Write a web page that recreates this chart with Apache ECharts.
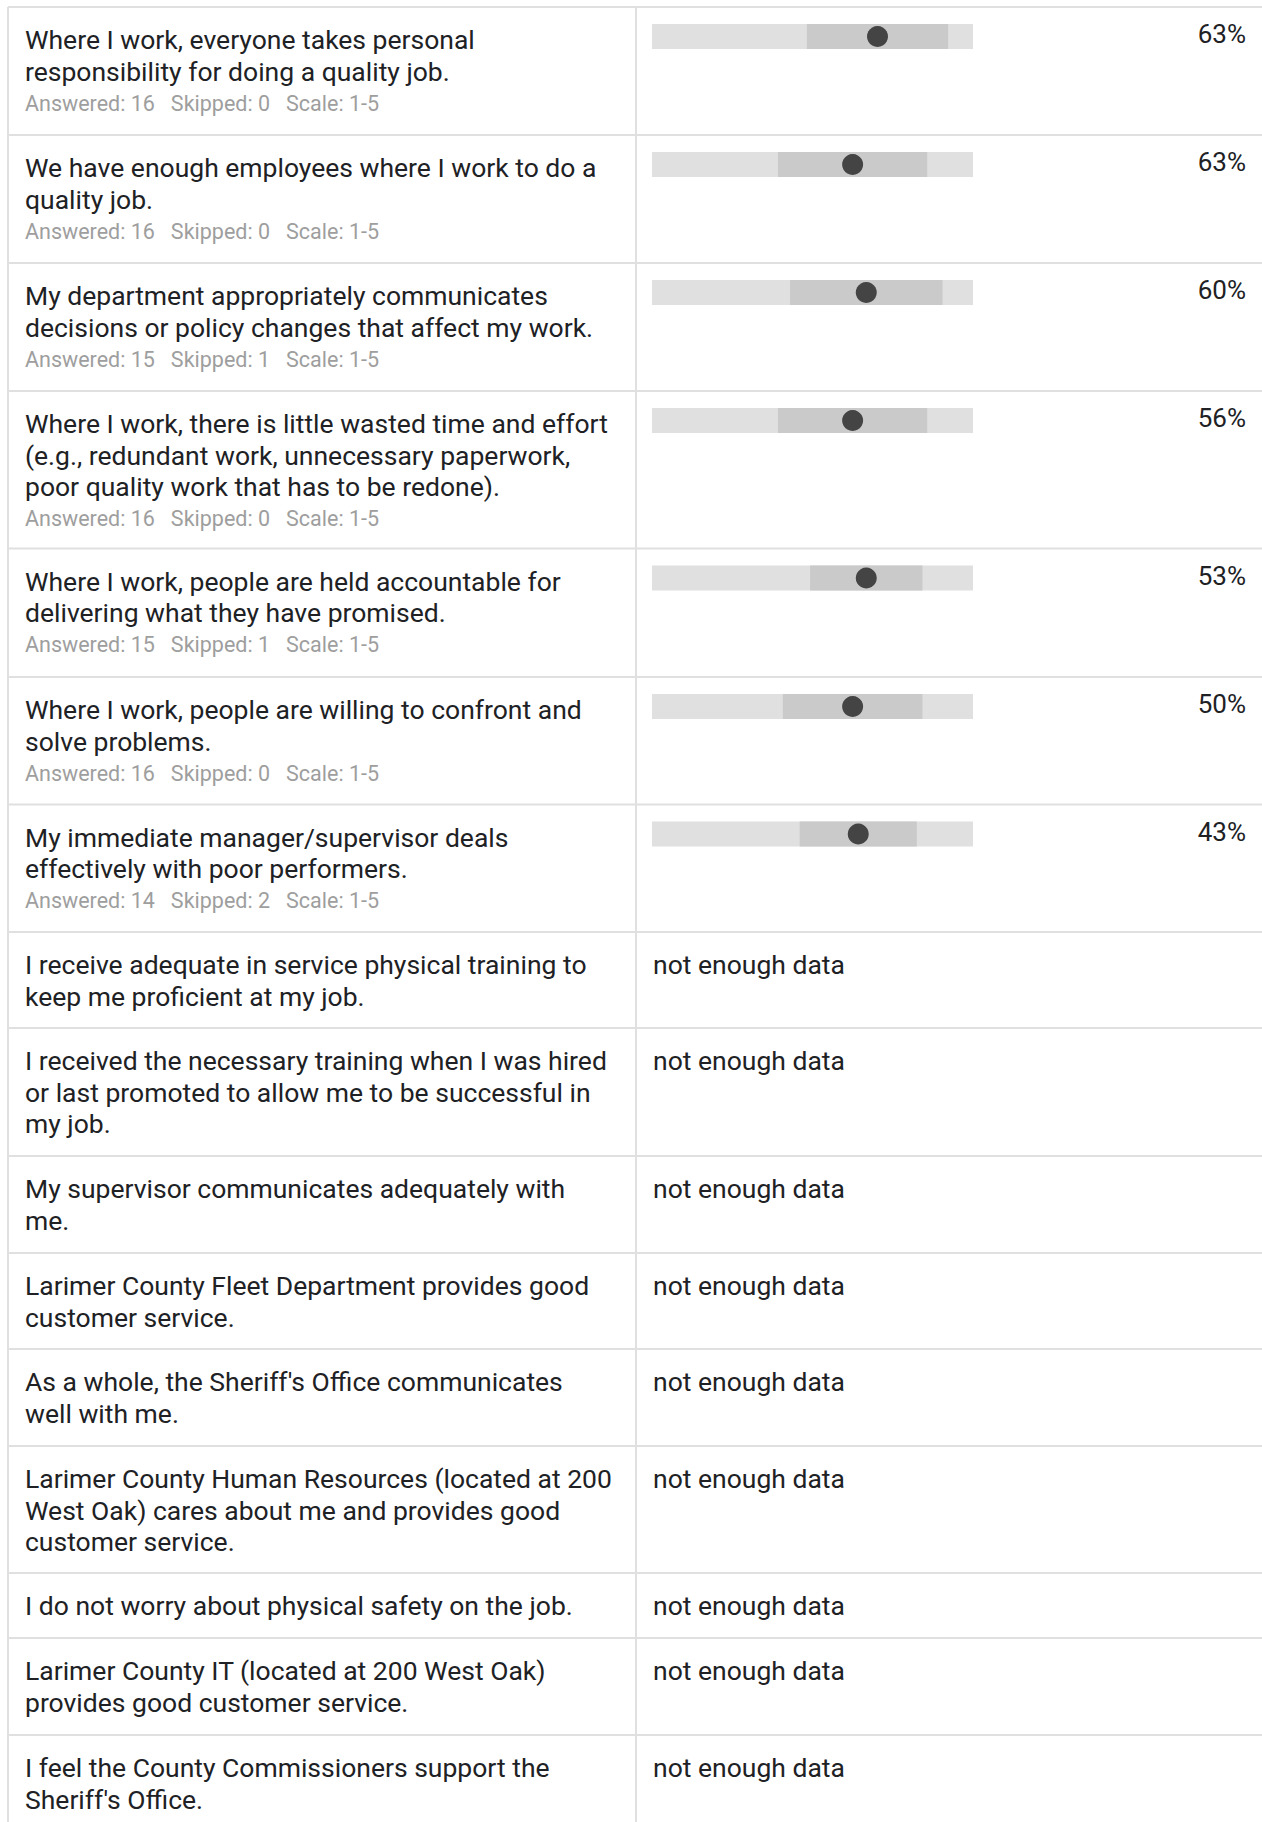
<!DOCTYPE html>
<html>
<head>
<meta charset="utf-8">
<script src="https://cdn.jsdelivr.net/npm/echarts@6/dist/echarts.min.js"></script>
<style>
html,body{margin:0;padding:0;background:#fff;}
#chart{width:1262px;height:1822px;}
</style>
</head>
<body>
<div id="chart"></div>
<script>
// ---------------- DATA ----------------
const questions = [
  "Where I work, everyone takes personal\nresponsibility for doing a quality job.",
  "We have enough employees where I work to do a\nquality job.",
  "My department appropriately communicates\ndecisions or policy changes that affect my work.",
  "Where I work, there is little wasted time and effort\n(e.g., redundant work, unnecessary paperwork,\npoor quality work that has to be redone).",
  "Where I work, people are held accountable for\ndelivering what they have promised.",
  "Where I work, people are willing to confront and\nsolve problems.",
  "My immediate manager/supervisor deals\neffectively with poor performers.",
  "I receive adequate in service physical training to\nkeep me proficient at my job.",
  "I received the necessary training when I was hired\nor last promoted to allow me to be successful in\nmy job.",
  "My supervisor communicates adequately with\nme.",
  "Larimer County Fleet Department provides good\ncustomer service.",
  "As a whole, the Sheriff's Office communicates\nwell with me.",
  "Larimer County Human Resources (located at 200\nWest Oak) cares about me and provides good\ncustomer service.",
  "I do not worry about physical safety on the job.",
  "Larimer County IT (located at 200 West Oak)\nprovides good customer service.",
  "I feel the County Commissioners support the\nSheriff's Office."
];
const answered = [16, 16, 15, 16, 15, 16, 14];
const skipped  = [0, 0, 1, 0, 1, 0, 2];
const means    = [3.81, 3.50, 3.67, 3.50, 3.67, 3.50, 3.57];
const sds      = [0.88, 0.93, 0.95, 0.93, 0.70, 0.87, 0.73];
const favorable = ["63%", "63%", "60%", "56%", "53%", "50%", "43%"];
const scaleRange = [1, 5];
const scaleText = "Scale: 1-5";
const noDataText = "not enough data";

// ---------------- LAYOUT ----------------
const rowHeights = [128, 128, 128, 157.5, 128.5, 127.5, 127.5, 96, 128, 97, 96, 97, 127, 65, 97, 100];
const tableTop = 7, tableLeft = 8, colDiv = 636, pageW = 1262;
const trackLeft = 652, trackWidth = 321, trackOffset = 17, trackHeight = 25;
const lineColor = '#e0e0e0';
const textColor = '#202124';
const subColor = '#9e9e9e';
const FONT = 'Roboto, "Noto Sans", sans-serif';
const mainSize = 26.5, subSize = 21.5, pctSize = 26;

const rowTops = [];
let acc = tableTop;
rowHeights.forEach(h => { rowTops.push(acc); acc += h; });
const tableBottom = acc;

const graphic = [];
// borders
graphic.push({type:'line', shape:{x1:tableLeft, y1:tableTop, x2:pageW, y2:tableTop}, style:{stroke:lineColor, lineWidth:2}});
rowTops.forEach((t, i) => {
  graphic.push({type:'line', shape:{x1:tableLeft, y1:t + rowHeights[i], x2:pageW, y2:t + rowHeights[i]}, style:{stroke:lineColor, lineWidth:2}});
});
graphic.push({type:'line', shape:{x1:tableLeft, y1:tableTop, x2:tableLeft, y2:tableBottom}, style:{stroke:lineColor, lineWidth:2}});
graphic.push({type:'line', shape:{x1:colDiv, y1:tableTop, x2:colDiv, y2:tableBottom}, style:{stroke:lineColor, lineWidth:2}});

const LH = 31.4;
questions.forEach((q, i) => {
  const top = rowTops[i];
  const nLines = q.split('\n').length;
  graphic.push({type:'text', style:{text:q, x:25, y:top + 17, fill:textColor, fontSize:mainSize, fontFamily:FONT, lineHeight:LH, verticalAlign:'top', align:'left'}});
  if (i < answered.length) {
    const sub = 'Answered: ' + answered[i] + '   Skipped: ' + skipped[i] + '   ' + scaleText;
    graphic.push({type:'text', style:{text:sub, x:25, y:top + 17.5 + nLines * LH, fill:subColor, fontSize:subSize, fontFamily:FONT, lineHeight:LH, verticalAlign:'top', align:'left'}});
    graphic.push({type:'text', style:{text:favorable[i], x:1246, y:top + 27, fill:textColor, fontSize:pctSize, fontFamily:FONT, verticalAlign:'middle', align:'right'}});
  } else {
    graphic.push({type:'text', style:{text:noDataText, x:653, y:top + 17, fill:textColor, fontSize:mainSize, fontFamily:FONT, lineHeight:LH, verticalAlign:'top', align:'left'}});
  }
});

// grids for scored rows
const grids = [], xAxes = [], yAxes = [], series = [];
means.forEach((m, i) => {
  grids.push({left:trackLeft, width:trackWidth, top:rowTops[i] + trackOffset, height:trackHeight, containLabel:false});
  xAxes.push({type:'value', gridIndex:i, min:scaleRange[0], max:scaleRange[1], show:false});
  yAxes.push({type:'category', gridIndex:i, data:[questions[i]], show:false});
  series.push({
    type:'custom', xAxisIndex:i, yAxisIndex:i, silent:true,
    data:[[m, sds[i]]],
    renderItem: function (params, api) {
      const mean = api.value(0), sd = api.value(1);
      const bw = api.size([0, 1])[1];
      const a = api.coord([scaleRange[0], 0]);
      const b = api.coord([scaleRange[1], 0]);
      const c = api.coord([mean - sd, 0]);
      const d = api.coord([mean + sd, 0]);
      return {type:'group', children:[
        {type:'rect', shape:{x:a[0], y:a[1] - bw/2, width:b[0]-a[0], height:bw}, style:{fill:'#e0e0e0'}},
        {type:'rect', shape:{x:c[0], y:c[1] - bw/2, width:d[0]-c[0], height:bw}, style:{fill:'#cacaca'}}
      ]};
    }
  });
  series.push({
    type:'scatter', xAxisIndex:i, yAxisIndex:i, silent:true,
    data:[[m, 0]], symbol:'circle', symbolSize:21,
    itemStyle:{color:'#444444', opacity:1}, z:5
  });
});

const chart = echarts.init(document.getElementById('chart'), null, {renderer:'svg', width:1262, height:1822});
chart.setOption({
  animation:false,
  backgroundColor:'#ffffff',
  grid:grids, xAxis:xAxes, yAxis:yAxes, series:series,
  graphic:graphic
});
</script>
</body>
</html>
